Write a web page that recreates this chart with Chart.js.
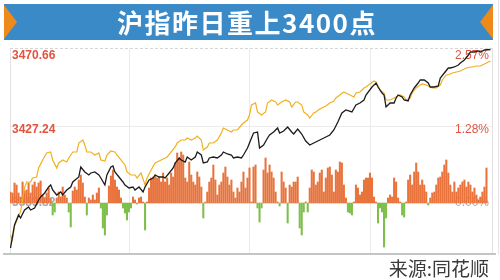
<!DOCTYPE html>
<html><head><meta charset="utf-8">
<script src="https://cdn.jsdelivr.net/npm/chart.js@4/dist/chart.umd.min.js"></script>
<style>html,body{margin:0;padding:0;background:#fff}#wrap{width:500px;height:280px;position:relative}</style>
</head><body><div id="wrap"><canvas id="c" width="500" height="280"></canvas></div>
<script>
const title = '沪指昨日重上3400点';
const source = '来源:同花顺';
const priceTicks = [3383.82, 3427.24, 3470.66];
const pctTicks = ['0.00%', '1.28%', '2.57%'];
const timeGrid = [60, 120, 180];

const indexMinutes = [1,3,5,6,8,10,11,13,15,16,18,20,21,22,24,26,27,29,31,32,35,36,38,40,41,43,45,46,48,49,51,52,53,55,57,58,60,62,63,65,67,68,70,72,73,75,77,78,80,82,83,85,86,88,89,91,93,94,96,97,99,100,102,104,106,107,109,111,112,114,116,117,119,120,122,124,125,127,129,130,132,134,135,137,139,141,142,144,146,148,150,153,157,160,162,164,166,168,171,173,175,177,178,181,183,184,186,187,188,190,192,193,194,196,197,199,200,202,204,205,207,209,210,212,214,215,217,219,220,222,224,225,227,229,230,232,234,235,237,240];
const indexPrices = [3358.36,3371.37,3377.03,3375.33,3379.86,3381.56,3379.86,3380.99,3385.52,3387.21,3389.48,3392.87,3394.00,3391.17,3388.35,3390.04,3388.35,3391.17,3392.87,3395.70,3398.53,3404.19,3401.36,3399.66,3400.79,3401.36,3399.66,3397.96,3394.00,3399.66,3404.19,3404.75,3401.36,3398.53,3395.70,3394.00,3392.31,3392.87,3391.17,3392.87,3390.04,3392.87,3396.83,3397.96,3399.66,3398.53,3398.53,3397.96,3400.79,3403.62,3406.45,3409.28,3408.15,3407.01,3409.84,3408.15,3409.84,3412.67,3410.97,3406.45,3407.01,3409.28,3409.84,3409.28,3410.97,3412.67,3411.54,3410.97,3409.28,3409.84,3409.28,3410.97,3414.93,3417.76,3423.42,3423.98,3414.93,3416.63,3420.59,3422.29,3423.98,3426.25,3423.42,3424.55,3426.81,3423.98,3422.85,3425.69,3422.85,3418.89,3416.63,3418.33,3420.59,3422.29,3425.12,3429.64,3434.73,3436.43,3435.30,3439.26,3440.39,3442.09,3444.92,3449.44,3451.70,3449.44,3446.05,3444.92,3438.13,3440.39,3440.39,3443.22,3444.92,3443.78,3442.09,3441.52,3444.92,3448.88,3451.70,3453.40,3453.40,3451.70,3449.44,3449.44,3450.01,3454.53,3457.36,3460.19,3460.19,3460.75,3461.89,3463.02,3464.72,3467.54,3469.24,3469.24,3469.81,3469.24,3470.37,3470.66];

const avgMinutes = [1,2,3,5,6,7,8,9,11,12,14,15,17,19,21,22,24,25,27,29,30,32,34,35,37,38,39,41,43,45,46,48,49,51,53,54,56,58,59,61,63,64,66,68,69,71,73,74,76,78,79,81,83,84,86,88,89,91,93,94,96,97,99,100,102,104,106,107,109,111,112,114,116,117,119,120,121,123,124,126,128,129,131,133,134,136,138,140,141,143,144,146,147,149,150,152,153,155,157,158,160,162,163,165,167,168,170,172,173,175,177,178,180,182,183,185,187,188,190,192,193,195,197,198,200,201,203,205,206,208,210,211,213,215,216,218,220,221,223,225,226,228,230,231,233,235,236,238,240];
const avgPrices = [3365.72,3362.89,3370.81,3376.47,3378.73,3385.52,3392.31,3395.70,3395.70,3397.96,3398.53,3403.62,3408.15,3412.11,3412.67,3408.15,3403.62,3406.45,3408.15,3407.01,3409.28,3412.67,3412.67,3417.76,3419.46,3416.63,3412.67,3412.67,3410.97,3412.11,3408.15,3407.58,3410.97,3413.24,3412.67,3410.97,3408.15,3405.32,3401.36,3399.66,3399.66,3397.96,3400.79,3394.00,3397.96,3402.49,3406.45,3407.01,3408.15,3409.28,3409.84,3412.67,3415.50,3417.76,3419.46,3419.46,3420.59,3419.46,3420.59,3421.72,3419.46,3413.80,3415.50,3417.76,3417.76,3419.46,3423.42,3426.25,3425.12,3423.98,3425.12,3425.12,3427.94,3429.08,3430.77,3433.60,3439.26,3440.39,3435.30,3433.60,3435.30,3440.39,3442.09,3440.96,3439.26,3440.96,3442.09,3440.96,3438.13,3440.96,3440.96,3439.26,3435.30,3433.60,3431.90,3434.73,3435.30,3437.00,3438.13,3438.69,3440.39,3441.52,3443.22,3444.92,3446.61,3446.05,3444.92,3443.78,3446.05,3446.61,3448.88,3449.44,3451.14,3452.84,3452.27,3447.74,3446.05,3442.09,3442.09,3443.22,3443.78,3444.92,3443.78,3442.09,3443.22,3446.05,3448.88,3450.57,3451.14,3450.57,3449.44,3448.88,3448.88,3450.57,3453.40,3456.23,3456.80,3457.36,3457.93,3458.49,3459.06,3460.19,3460.75,3460.75,3461.32,3461.32,3461.89,3463.02,3464.15];

// red/green bars, one per minute starting at minute 1 (arbitrary units)
const barValues = [11,10,20,18,10,6,21,12,13,20,10,18,21,16,20,22,8,5,10,15,4,-12,-9,5,11,6,16,8,5,-9,-24,12,16,13,23,28,20,6,-12,5,3,8,3,10,15,-5,-25,-32,-12,17,27,33,23,16,13,5,-5,-10,-17,-9,-5,6,3,-1,5,6,1,-27,1,15,25,26,28,25,26,21,30,21,25,18,30,26,40,50,45,51,48,25,21,41,28,21,18,31,26,16,-15,1,11,21,25,38,23,8,18,21,30,36,26,18,23,11,5,15,11,21,31,15,25,35,1,36,38,-5,-19,-5,33,45,30,38,31,25,11,1,-3,31,21,15,-20,18,16,21,21,26,-25,-32,-9,1,-9,15,33,31,18,21,30,33,11,25,35,36,28,11,33,31,41,40,18,5,-9,-10,-12,1,18,15,8,11,23,25,25,30,25,6,1,-20,-5,-9,-44,-15,5,8,6,25,21,5,1,-12,-14,1,23,28,18,31,40,31,18,23,18,11,-2,5,10,11,18,25,26,31,38,43,30,18,11,21,11,15,18,21,23,16,21,18,11,15,8,3,6,11,16,35];

const RED = '#e2533f';
const decor = {
  id: 'decor',
  beforeDraw(chart) {
    const ctx = chart.ctx;
    ctx.save();
    ctx.fillStyle = '#fff'; ctx.fillRect(0, 0, chart.width, chart.height);
    ctx.fillStyle = '#3b8ac8'; ctx.fillRect(4, 4, 489, 36);
    ctx.fillStyle = '#ee8a1a';
    ctx.beginPath(); ctx.moveTo(4, 5); ctx.lineTo(17, 22); ctx.lineTo(4, 39); ctx.closePath(); ctx.fill();
    ctx.beginPath(); ctx.moveTo(493, 5); ctx.lineTo(480, 22); ctx.lineTo(493, 39); ctx.closePath(); ctx.fill();
    ctx.fillStyle = '#fff';
    ctx.font = 'bold 26px "Noto Sans CJK SC"';
    ctx.letterSpacing = '1.5px';
    ctx.textAlign = 'center'; ctx.textBaseline = 'middle';
    ctx.fillText(title, 247, 23);
    ctx.letterSpacing = '0px';
    ctx.restore();
  },
  beforeDatasetsDraw(chart) {
    const ctx = chart.ctx, a = chart.chartArea, xs = chart.scales.x, ys = chart.scales.y;
    ctx.save();
    ctx.lineWidth = 1;
    ctx.strokeStyle = '#ebebeb';
    timeGrid.forEach(t => {
      const x = Math.round(xs.getPixelForValue(t)) + 0.5;
      ctx.beginPath(); ctx.moveTo(x, a.top); ctx.lineTo(x, a.bottom); ctx.stroke();
    });
    const ym = Math.round(ys.getPixelForValue(priceTicks[1])) + 0.5;
    ctx.beginPath(); ctx.moveTo(a.left, ym); ctx.lineTo(a.right, ym); ctx.stroke();
    ctx.strokeStyle = '#e2e2e2';
    ctx.beginPath(); ctx.moveTo(a.left + 0.5, a.top); ctx.lineTo(a.left + 0.5, a.bottom); ctx.stroke();
    ctx.beginPath(); ctx.moveTo(a.right + 0.5, a.top); ctx.lineTo(a.right + 0.5, a.bottom); ctx.stroke();
    ctx.setLineDash([3, 2]);
    ctx.strokeStyle = '#d6d6d6';
    ctx.beginPath(); ctx.moveTo(a.left, a.top + 0.5); ctx.lineTo(a.right, a.top + 0.5); ctx.stroke();
    ctx.setLineDash([]);
    const offs = [0, 3.5, 6.5];
    ctx.textBaseline = 'middle';
    priceTicks.forEach((p, i) => {
      const y = ys.getPixelForValue(p) + offs[i];
      ctx.fillStyle = i === 0 ? '#a8a8a8' : RED;
      ctx.font = 'bold 12px "Liberation Sans"';
      ctx.textAlign = 'left';
      ctx.fillText(p.toFixed(2), a.left + 2, y);
      ctx.font = '12px "Liberation Sans"';
      ctx.textAlign = 'right';
      ctx.fillText(pctTicks[i], a.right - 3, y);
    });
    ctx.restore();
  },
  afterDraw(chart) {
    const ctx = chart.ctx;
    ctx.save();
    ctx.fillStyle = '#c4c4c4'; ctx.fillRect(3, 253, 493, 2);
    ctx.fillStyle = '#e6e6e6'; ctx.fillRect(498, 0, 1, 255);
    ctx.fillStyle = '#3a3a3a';
    ctx.font = '19px "Noto Sans CJK SC"';
    ctx.textAlign = 'right'; ctx.textBaseline = 'middle';
    ctx.fillText(source, 489, 269);
    ctx.restore();
  }
};

new Chart(document.getElementById('c'), {
  data: {
    datasets: [
      { type: 'line', label: '上证指数', data: indexMinutes.map((m, i) => ({x: m, y: indexPrices[i]})),
        borderColor: '#1c1c1c', borderWidth: 1.3, pointRadius: 0, tension: 0, yAxisID: 'y', order: 0 },
      { type: 'line', label: '均价', data: avgMinutes.map((m, i) => ({x: m, y: avgPrices[i]})),
        borderColor: '#f0b020', borderWidth: 1.2, pointRadius: 0, tension: 0, yAxisID: 'y', order: 1 },
      { type: 'bar', label: '红绿柱', data: barValues.map((v, i) => ({x: i + 1, y: v})),
        backgroundColor: barValues.map(v => v >= 0 ? '#e8733c' : '#7dbf4a'),
        barThickness: 1.4, yAxisID: 'yb', order: 2 }
    ]
  },
  options: {
    responsive: false, animation: false, devicePixelRatio: 1,
    layout: { padding: { left: 10, right: 8, top: 48, bottom: 27 } },
    plugins: { legend: { display: false }, tooltip: { enabled: false } },
    scales: {
      x: { type: 'linear', min: 0.75, max: 240.75, display: false, offset: false },
      y: { type: 'linear', min: 3355.53, max: 3471.5, display: false },
      yb: { type: 'linear', min: -50, max: 155, display: false }
    }
  },
  plugins: [decor]
});
</script>
</body></html>
